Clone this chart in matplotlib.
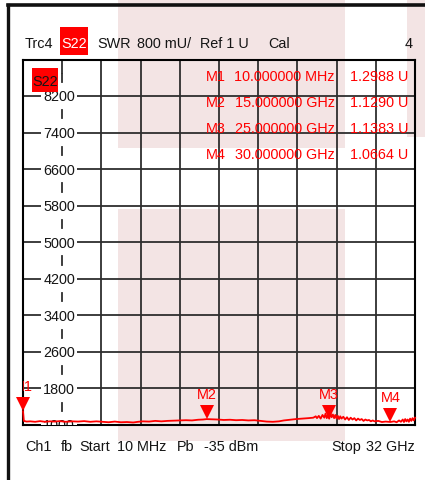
import matplotlib
matplotlib.use("Agg")
import matplotlib.pyplot as plt
import matplotlib.transforms as mtransforms
from matplotlib.patches import Rectangle
from matplotlib.lines import Line2D
import numpy as np

plt.rcParams['font.family'] = ['Liberation Sans', 'DejaVu Sans']

# trace data: frequency in GHz, SWR in U
freq = [0.01, 0.08, 0.3, 0.6, 1.0, 1.4, 1.8, 2.2, 2.6, 3.0, 3.5, 4.0, 4.5, 5.0, 5.5,
        6.0, 6.5, 7.0, 7.5, 8.0, 8.5, 9.0, 9.4, 9.8, 10.3, 10.8, 11.3, 11.8, 12.3,
        12.8, 13.3, 13.8, 14.3, 14.7, 15.0, 15.4, 15.9, 16.4, 16.9, 17.4, 17.9,
        18.4, 18.9, 19.4, 19.9, 20.4, 20.9, 21.3, 21.8, 22.3, 22.8, 23.3, 23.7,
        23.9, 24.0, 24.15, 24.3, 24.45, 24.6, 24.7, 24.8, 24.9, 25.0, 25.1, 25.2,
        25.3, 25.4, 25.5, 25.6, 25.7, 25.8, 25.9, 26.0, 26.15, 26.3, 26.45, 26.6,
        26.75, 26.9, 27.05, 27.2, 27.35, 27.5, 27.65, 27.8, 27.95, 28.1, 28.25,
        28.4, 28.55, 28.7, 29.0, 29.3, 29.6, 30.0, 30.3, 30.5, 30.7, 30.85, 31.0,
        31.1, 31.2, 31.3, 31.4, 31.5, 31.6, 31.7, 31.8, 31.9, 32.0]
swr = [1.2988, 1.09, 1.075, 1.08, 1.07, 1.085, 1.07, 1.08, 1.075, 1.085, 1.07, 1.08,
       1.075, 1.085, 1.07, 1.08, 1.07, 1.06, 1.075, 1.06, 1.065, 1.055, 1.07, 1.08,
       1.075, 1.09, 1.08, 1.09, 1.095, 1.10, 1.105, 1.10, 1.115, 1.12, 1.129, 1.125,
       1.12, 1.11, 1.115, 1.105, 1.11, 1.10, 1.105, 1.09, 1.075, 1.07, 1.08, 1.10,
       1.115, 1.13, 1.14, 1.15, 1.16,
       1.19, 1.15, 1.20, 1.14, 1.22, 1.16, 1.25, 1.15, 1.21, 1.1383, 1.26, 1.17,
       1.23, 1.15, 1.22, 1.14, 1.20, 1.13, 1.19, 1.14, 1.18, 1.12, 1.17, 1.11,
       1.16, 1.12, 1.15, 1.10, 1.14, 1.11, 1.13, 1.09, 1.12, 1.10, 1.11,
       1.08, 1.10, 1.08, 1.09, 1.065, 1.075, 1.0664, 1.08, 1.06, 1.10, 1.07, 1.12,
       1.065, 1.13, 1.08, 1.12, 1.07, 1.14, 1.09, 1.15, 1.10, 1.16]

markers = ["M1", "M2", "M3", "M4"]
marker_freq = [0.01, 15.0, 25.0, 30.0]
marker_freq_txt = ["10.000000 MHz", "15.000000 GHz", "25.000000 GHz", "30.000000 GHz"]
marker_swr = [1.2988, 1.1290, 1.1383, 1.0664]

y_labels = [1000, 1800, 2600, 3400, 4200, 5000, 5800, 6600, 7400, 8200]
f_start, f_stop = 0.01, 32.0
y_min, y_max = 1000, 9000

W, H = 425, 480
fig = plt.figure(figsize=(W / 100, H / 100), dpi=100)
fig.patch.set_facecolor("white")


def fx(x):
    return x / W


def fy(y):
    return 1 - y / H


pink = "#f3e4e4"
for x0, y0, x1, y1 in [(118, 0, 345, 148), (118, 209, 345, 441), (407, 0, 425, 137)]:
    fig.add_artist(Rectangle((fx(x0), fy(y1)), fx(x1 - x0), (y1 - y0) / H,
                             transform=fig.transFigure, facecolor=pink,
                             edgecolor="none", zorder=-5))

# outer frame
fig.add_artist(Line2D([fx(7.5), 1], [fy(5), fy(5)], color="#111111", lw=2.6, zorder=5))
fig.add_artist(Line2D([fx(7.5), fx(7.5)], [fy(5), 0], color="#111111", lw=2.4, zorder=5))

ax = fig.add_axes([fx(23), fy(425), fx(415 - 23), (425 - 59.5) / H])
ax.patch.set_alpha(0)
ax.set_xlim(f_start, f_stop)
ax.set_ylim(y_min, y_max)
ax.set_xticks([])
ax.set_yticks([])
for s in ax.spines.values():
    s.set_color("black")
    s.set_linewidth(1.5)

xg = np.linspace(f_start, f_stop, 11)
grid_kw = dict(color="#2e2e2e", lw=1.3, zorder=1)
for v in y_labels[1:]:
    ax.plot([f_start, f_stop], [v, v], **grid_kw)
for x in xg[2:10]:
    ax.plot([x, x], [y_min, y_max], **grid_kw)
# dashed label column
for v in y_labels:
    ax.plot([xg[1], xg[1]], [v + 310, v + 490], **grid_kw)
ax.plot([xg[1], xg[1]], [8700, 9000], **grid_kw)

fs = 10.4
ink = "#151515"
lab_x = (59 - 23) / 392
blend = mtransforms.blended_transform_factory(ax.transAxes, ax.transData)
for v in y_labels:
    t = ax.text(lab_x, v - 118, str(v), transform=blend, ha="center", va="baseline",
                fontsize=fs, color=ink, zorder=3,
                bbox=dict(facecolor="white", edgecolor="none", pad=1.2))
    t.set_clip_box(ax.bbox)
    t.set_clip_on(True)

vals_mu = [v * 1000 for v in swr]
ax.plot(freq, vals_mu, color="#ff0000", lw=1.3, zorder=4, clip_on=False)

tri = mtransforms.offset_copy(ax.transData, fig=fig, y=5, units="points")
for m, f, v in zip(markers, marker_freq, marker_swr):
    ax.plot([f], [v * 1000], marker="v", ms=10, color="#ff0000", transform=tri,
            clip_on=False, zorder=5, mew=0)
    t = ax.annotate(m, (f, v * 1000), xytext=(0, 14.5), textcoords="offset points",
                    ha="center", va="baseline", color="#ff0000", fontsize=fs, zorder=5)
    t.set_clip_box(ax.bbox)
    t.set_clip_on(True)

# top header
hy = fy(48.5)
fig.text(fx(25), hy, "Trc4", fontsize=fs, va="baseline", color=ink)
fig.add_artist(Rectangle((fx(60), fy(55)), fx(28), 28 / H, transform=fig.transFigure,
                         facecolor="#ff0000", edgecolor="none", zorder=2))
fig.text(fx(74), hy, "S22", fontsize=fs, va="baseline", ha="center", color="white")
fig.text(fx(97), hy, "SWR", fontsize=fs, va="baseline", color=ink)
fig.text(fx(137), hy, "800 mU/", fontsize=fs, va="baseline", color=ink)
fig.text(fx(200), hy, "Ref 1 U", fontsize=fs, va="baseline", color=ink)
fig.text(fx(268), hy, "Cal", fontsize=fs, va="baseline", color=ink)
fig.text(fx(413), hy, "4", fontsize=fs, va="baseline", ha="right", color=ink)

# trace label box inside the grid
fig.add_artist(Rectangle((fx(32), fy(92)), fx(26), 24 / H, transform=fig.transFigure,
                         facecolor="#ff0000", edgecolor="none", zorder=2))
fig.text(fx(45), fy(85.5), "S22", fontsize=fs, va="baseline", ha="center", color=ink)

# marker readout
for i, (m, ft, v) in enumerate(zip(markers, marker_freq_txt, marker_swr)):
    by = fy(81 + 26 * i)
    fig.text(fx(206), by, m, fontsize=fs, va="baseline", color="#ff0000")
    fig.text(fx(335), by, ft, fontsize=fs, va="baseline", ha="right", color="#ff0000")
    fig.text(fx(408), by, f"{v:.4f} U", fontsize=fs, va="baseline", ha="right",
             color="#ff0000")

# bottom line
by = fy(451)
for x, s in [(25, "Ch1"), (61, "fb"), (79, "Start"), (117, "10 MHz"), (177, "Pb"),
             (204, "-35 dBm"), (331, "Stop")]:
    fig.text(fx(x), by, s, fontsize=fs, va="baseline", color=ink)
fig.text(fx(415), by, "32 GHz", fontsize=fs, va="baseline", ha="right", color=ink)

fig.savefig("out.png", dpi=100)
